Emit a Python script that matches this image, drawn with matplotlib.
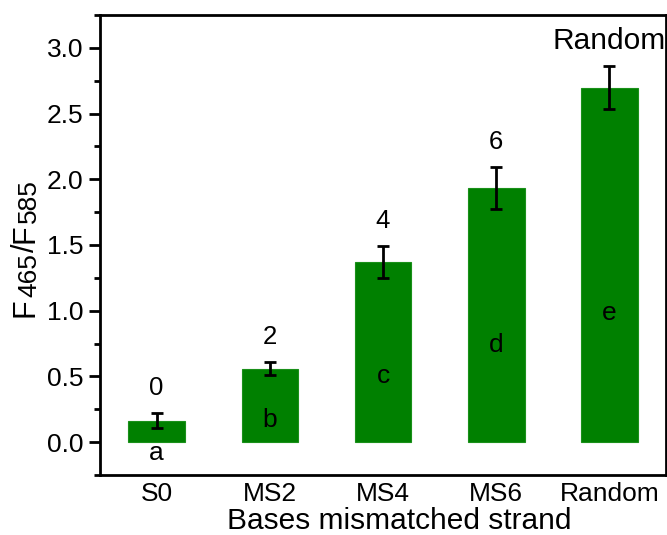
import matplotlib
matplotlib.use("Agg")
import matplotlib.pyplot as plt
from matplotlib.ticker import MultipleLocator, FormatStrFormatter

plt.rcParams['font.family'] = ['Liberation Sans', 'DejaVu Sans']

categories = ["S0", "MS2", "MS4", "MS6", "Random"]
values = [0.164, 0.560, 1.371, 1.933, 2.696]
errors = [0.055, 0.050, 0.125, 0.160, 0.165]
top_labels = ["0", "2", "4", "6", "Random"]
letters = ["a", "b", "c", "d", "e"]
letter_y = [-0.08, 0.17, 0.50, 0.74, 0.98]

W, H = 667, 535
fig = plt.figure(figsize=(W / 100, H / 100), dpi=100)
ax = fig.add_axes([100 / W, 60 / H, 566 / W, 460 / H])

x = list(range(1, len(categories) + 1))
ax.bar(x, values, width=0.5, color='#008000', edgecolor='#1a901a', linewidth=0.8, zorder=2)
ax.errorbar(x, values, yerr=errors, fmt='none', ecolor='black', elinewidth=2,
            capsize=4, capthick=2, zorder=3)

for xi, v, e, lab in zip(x, values, errors, top_labels):
    fs = 21.5 if lab == "Random" else 18.5
    ax.text(xi, v + e + 0.19, lab, ha='center', va='center', fontsize=fs, zorder=4)
for xi, ly, lab in zip(x, letter_y, letters):
    ax.text(xi, ly, lab, ha='center', va='center', fontsize=19, zorder=4)

ax.set_xlim(0.5, 5.5)
ax.set_ylim(-0.25, 3.25)
ax.set_xticks(x)
ax.set_xticklabels(categories, fontsize=19)
ax.yaxis.set_major_locator(MultipleLocator(0.5))
ax.yaxis.set_minor_locator(MultipleLocator(0.25))
ax.yaxis.set_major_formatter(FormatStrFormatter('%.1f'))
ax.tick_params(axis='y', which='major', direction='out', length=8, width=2, labelsize=19, pad=4)
ax.tick_params(axis='y', which='minor', direction='out', length=4.5, width=2)
ax.tick_params(axis='x', which='both', length=0, pad=5)
for s in ax.spines.values():
    s.set_linewidth(2)

ax.set_xlabel("Bases mismatched strand", fontsize=21.5)
ax.xaxis.set_label_coords(0.528, -0.07)

# y label F465/F585 with large subscripts, built from pieces
fig.canvas.draw()
r = fig.canvas.get_renderer()
pieces = [("F", 22, 0), ("465", 19, 2), ("/", 22, 0), ("F", 22, 0), ("585", 19, 2)]
base_x = 34
ypos = H - 317
for s, fs, dx in pieces:
    t = fig.text((base_x + dx) / W, ypos / H, s, fontsize=fs, rotation=90,
                 rotation_mode='anchor', ha='left', va='baseline')
    bb = t.get_window_extent(r)
    ypos += bb.height + 1

fig.savefig("out.png", dpi=100)
